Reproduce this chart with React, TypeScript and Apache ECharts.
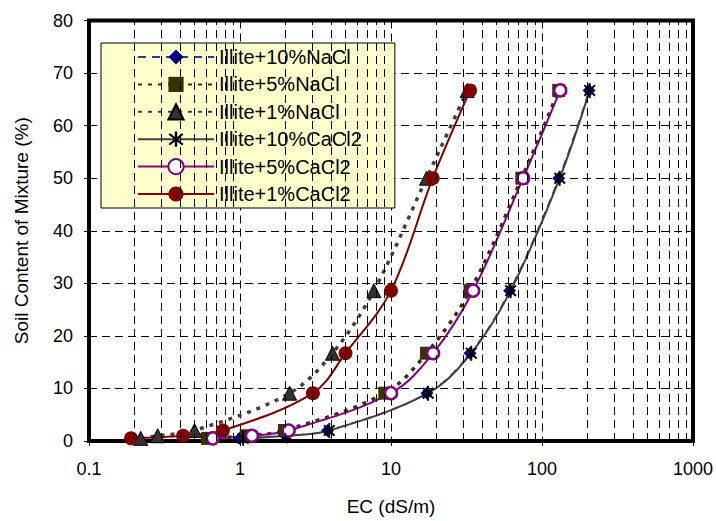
import React, { useEffect, useRef } from "react";
import * as echarts from "echarts";

// Soil content of mixture (%) — shared by every series
const soilContent = [0.5, 1, 2, 9.1, 16.7, 28.6, 50, 66.7];

// EC (dS/m) per series
const ecIllite10NaCl = [1.0, 2.0, 3.8, 17.3, 33.4, 61, 129, 205];
const ecIllite5NaCl = [0.61, 1.1, 1.97, 9.1, 17.2, 33.4, 73.5, 129];
const ecIllite1NaCl = [0.22, 0.285, 0.5, 2.13, 4.1, 7.7, 17.2, 32];
const ecIllite10CaCl2 = [1.05, 2.05, 3.9, 17.6, 34, 62, 131, 207];
const ecIllite5CaCl2 = [0.66, 1.2, 2.1, 10, 19, 35, 75, 132];
const ecIllite1CaCl2 = [0.19, 0.42, 0.77, 3.04, 5.0, 10, 18.9, 33.4];

const seriesNames = [
  "Illite+10%NaCl",
  "Illite+5%NaCl",
  "Illite+1%NaCl",
  "Illite+10%CaCl2",
  "Illite+5%CaCl2",
  "Illite+1%CaCl2",
];

// Minor log gridline positions
const minorGridX = [
  0.2, 0.3, 0.4, 0.5, 0.6, 0.7, 0.8, 0.9,
  2, 3, 4, 5, 6, 7, 8, 9,
  20, 30, 40, 50, 60, 70, 80, 90,
  200, 300, 400, 500, 600, 700, 800, 900,
];

function asteriskPath(): string {
  const L = 10;
  const w = 1.3;
  const parts: string[] = [];
  [90, 45, 135].forEach((deg) => {
    const t = (deg * Math.PI) / 180;
    const dx = Math.cos(t), dy = Math.sin(t);
    const nx = -dy, ny = dx;
    const p = [
      [L * dx + w * nx, L * dy + w * ny],
      [L * dx - w * nx, L * dy - w * ny],
      [-L * dx - w * nx, -L * dy - w * ny],
      [-L * dx + w * nx, -L * dy + w * ny],
    ].map(([a, b]) => `${(a + 12).toFixed(3)},${(b + 12).toFixed(3)}`);
    parts.push(`M${p[0]} L${p[1]} L${p[2]} L${p[3]} Z`);
  });
  return "path://" + parts.join(" ");
}

const pair = (xs: number[]) => xs.map((x, i) => [x, soilContent[i]]);

export default function App() {
  const ref = useRef<HTMLDivElement>(null);
  useEffect(() => {
    if (!ref.current) return;
    const chart = echarts.init(ref.current, null, { renderer: "svg" });
    const font = "'Liberation Sans', Arial, sans-serif";
    const dash = [8, 5];
    const smooth = 0.35;
    chart.setOption({
      animation: false,
      backgroundColor: "#fff",
      textStyle: { fontFamily: font, color: "#000" },
      grid: {
        left: 89,
        top: 20.5,
        right: 23,
        bottom: 77,
        show: true,
        borderColor: "#000",
        borderWidth: 4,
        backgroundColor: "transparent",
      },
      legend: {
        data: seriesNames,
        orient: "vertical",
        left: 101,
        top: 43,
        padding: [4, 33, 4, 36],
        itemWidth: 76,
        itemHeight: 19,
        itemGap: 7.4,
        selectedMode: false,
        backgroundColor: "#FFFFCC",
        borderColor: "#000",
        borderWidth: 1,
        textStyle: { fontFamily: font, fontSize: 20, lineHeight: 20, color: "#000" },
      },
      xAxis: {
        type: "log",
        logBase: 10,
        min: 0.1,
        max: 1000,
        name: "EC (dS/m)",
        nameLocation: "middle",
        nameGap: 56,
        nameTextStyle: { fontFamily: font, fontSize: 19, color: "#000" },
        axisLine: { show: false },
        axisTick: { show: true, length: 5, lineStyle: { color: "#000", width: 1 } },
        axisLabel: {
          fontFamily: font,
          fontSize: 18,
          color: "#000",
          margin: 19,
          formatter: (v: number) => String(v),
        },
        splitLine: { show: true, lineStyle: { color: "#000", type: dash, width: 1 } },
        minorTick: { show: false },
      },
      yAxis: {
        type: "value",
        min: 0,
        max: 80,
        interval: 10,
        name: "Soil Content of Mixture (%)",
        nameLocation: "middle",
        nameGap: 58,
        nameTextStyle: { fontFamily: font, fontSize: 19, color: "#000" },
        axisLine: { show: false },
        axisTick: { show: true, length: 5, lineStyle: { color: "#000", width: 1 } },
        axisLabel: { fontFamily: font, fontSize: 18, color: "#000", margin: 16 },
        splitLine: { show: true, lineStyle: { color: "#000", type: dash, width: 1 } },
      },
      series: [
        {
          name: "minor-grid",
          type: "line",
          data: [],
          silent: true,
          z: 1,
          markLine: {
            silent: true,
            symbol: ["none", "none"],
            label: { show: false },
            lineStyle: { color: "#000", type: dash, width: 1 },
            data: minorGridX.map((v) => ({ xAxis: v })),
          },
        },
        {
          name: seriesNames[0],
          type: "line",
          smooth,
          data: pair(ecIllite10NaCl),
          symbol: "diamond",
          symbolSize: 13,
          lineStyle: { color: "#3333AA", width: 1.2, type: [8, 6] },
          itemStyle: { color: "#000080" },
        },
        {
          name: seriesNames[1],
          type: "line",
          smooth,
          data: pair(ecIllite5NaCl),
          symbol: "rect",
          symbolSize: 13,
          lineStyle: { color: "#333300", width: 3.5, type: [4, 6] },
          itemStyle: { color: "#333300" },
        },
        {
          name: seriesNames[2],
          type: "line",
          smooth,
          data: pair(ecIllite1NaCl),
          symbol: "triangle",
          symbolSize: 14,
          lineStyle: { color: "#404040", width: 3.5, type: [4, 6] },
          itemStyle: { color: "#333333", borderColor: "#000", borderWidth: 1 },
        },
        {
          name: seriesNames[3],
          type: "line",
          smooth,
          data: pair(ecIllite10CaCl2),
          symbol: asteriskPath(),
          symbolKeepAspect: true,
          symbolSize: 15,
          lineStyle: { color: "#404040", width: 2 },
          itemStyle: { color: "#000" },
        },
        {
          name: seriesNames[4],
          type: "line",
          smooth,
          data: pair(ecIllite5CaCl2),
          symbol: "circle",
          symbolSize: 12,
          lineStyle: { color: "#800080", width: 2 },
          itemStyle: { color: "#fff", borderColor: "#800080", borderWidth: 2.5 },
        },
        {
          name: seriesNames[5],
          type: "line",
          smooth,
          data: pair(ecIllite1CaCl2),
          symbol: "circle",
          symbolSize: 14,
          lineStyle: { color: "#800000", width: 2 },
          itemStyle: { color: "#800000" },
        },
      ],
    });
    return () => chart.dispose();
  }, []);
  return (
    <div
      ref={ref}
      style={{ position: "fixed", left: 0, top: 0, width: 716, height: 521, background: "#fff" }}
    />
  );
}
